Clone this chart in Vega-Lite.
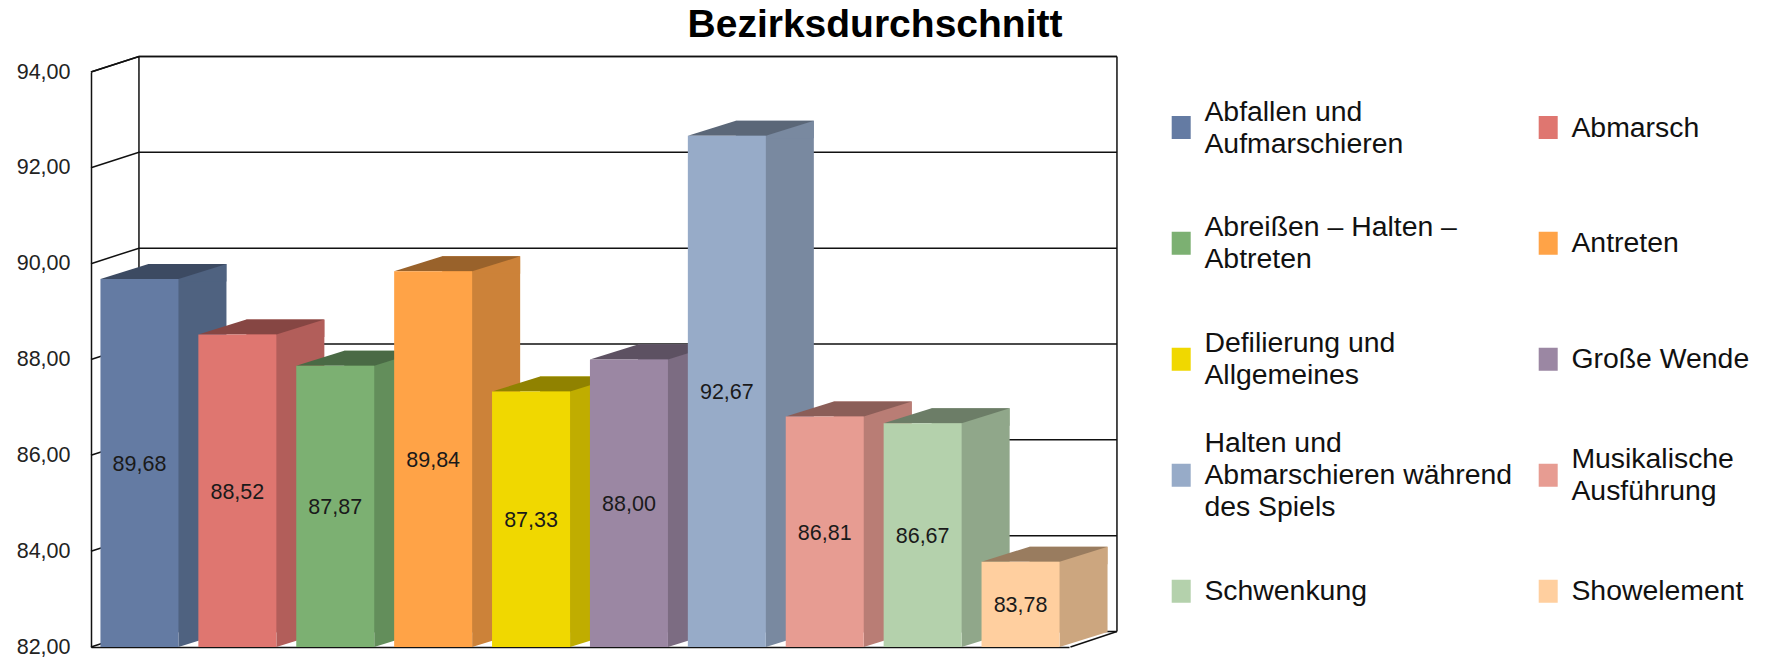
{
"$schema":"https://vega.github.io/schema/vega-lite/v6.json",
"autosize":"none",
"padding":{"left":91,"top":72,"right":699,"bottom":14},
"width":978,"height":575,
"background":"white",
"view":{"stroke":null},
"title":{"text":"Bezirksdurchschnitt","font":"Liberation Sans","fontSize":39,"fontWeight":"bold","color":"#000000","anchor":"middle","frame":"group","dx":295,"offset":-22,"baseline":"alphabetic"},
"datasets":{
"bars":[
{"name":"Abfallen und Aufmarschieren","value":89.68,"label":"89,68","base":82},
{"name":"Abmarsch","value":88.52,"label":"88,52","base":82},
{"name":"Abreißen – Halten – Abtreten","value":87.87,"label":"87,87","base":82},
{"name":"Antreten","value":89.84,"label":"89,84","base":82},
{"name":"Defilierung und Allgemeines","value":87.33,"label":"87,33","base":82},
{"name":"Große Wende","value":88.0,"label":"88,00","base":82},
{"name":"Halten und Abmarschieren während des Spiels","value":92.67,"label":"92,67","base":82},
{"name":"Musikalische Ausführung","value":86.81,"label":"86,81","base":82},
{"name":"Schwenkung","value":86.67,"label":"86,67","base":82},
{"name":"Showelement","value":83.78,"label":"83,78","base":82}
],
"ticks":[{"tick":82},{"tick":84},{"tick":86},{"tick":88},{"tick":90},{"tick":92},{"tick":94}]
},
"resolve":{"scale":{"color":"independent"}},
"layer":[
{"data":{"name":"ticks"},
 "mark":{"type":"point","filled":false,"stroke":"#111111","strokeWidth":1.5,"size":10000,"opacity":1,
  "shape":"M-0.97,0 L-0.01,-0.31 L19.55,-0.31"},
 "encoding":{
  "x":{"datum":"Abfallen und Aufmarschieren","type":"nominal","scale":{"type":"band","paddingInner":0.204,"paddingOuter":0.097,"domain":["Abfallen und Aufmarschieren","Abmarsch","Abreißen – Halten – Abtreten","Antreten","Defilierung und Allgemeines","Große Wende","Halten und Abmarschieren während des Spiels","Musikalische Ausführung","Schwenkung","Showelement"]},
   "axis":{"title":null,"labels":false,"ticks":false,"grid":false,"domain":true,"domainColor":"#111111","domainWidth":1.5}},
  "y":{"field":"tick","type":"quantitative","scale":{"domain":[82,94],"zero":false,"nice":false},
   "axis":{"title":null,"values":[82,84,86,88,90,92,94],"grid":false,"ticks":false,"domain":true,"domainColor":"#111111","domainWidth":1.5,"labelPadding":21,"labelFont":"Liberation Sans","labelFontSize":21.5,"labelColor":"#222222","labelExpr":"replace(format(datum.value,'.2f'),'.',',')"}}
 }},
{"data":{"values":[{"tick":82}]},
 "mark":{"type":"point","filled":false,"stroke":"#111111","strokeWidth":1.5,"size":10000,"opacity":1,
  "shape":"M-0.01,-0.31 L-0.01,-11.81 M19.55,-0.31 L19.55,-11.81 M18.62,0 L19.55,-0.31 M-0.97,-11.5 L-0.01,-11.81 L19.55,-11.81"},
 "encoding":{
  "x":{"datum":"Abfallen und Aufmarschieren","type":"nominal"},
  "y":{"field":"tick","type":"quantitative"}
 }},
{"data":{"name":"bars"},
 "mark":{"type":"bar","width":78,"xOffset":48,"yOffset":-15,"y2Offset":-15},
 "encoding":{
  "x":{"field":"name","type":"nominal","sort":null},
  "y":{"field":"value","type":"quantitative"},
  "y2":{"field":"base"},
  "color":{"field":"name","type":"nominal","sort":null,"legend":null,"scale":{"range":["#4F6280","#B25E5A","#638E5B","#CC8239","#C0AD00","#7C6C82","#7989A0","#B97D75","#90A78A","#CCA67F"]}}
 }},
{"data":{"name":"bars"},
 "mark":{"type":"point","filled":true,"opacity":1,"size":10000,"shape":"M0.78,0 L1.74,-0.3 L0.78,-0.3 Z"},
 "encoding":{
  "x":{"field":"name","type":"nominal","sort":null},
  "y":{"field":"base","type":"quantitative"},
  "color":{"field":"name","type":"nominal","sort":null,"legend":null,"scale":{"range":["#4F6280","#B25E5A","#638E5B","#CC8239","#C0AD00","#7C6C82","#7989A0","#B97D75","#90A78A","#CCA67F"]}}
 }},
{"data":{"name":"bars"},
 "mark":{"type":"point","filled":true,"opacity":1,"size":10000,"shape":"M0.78,0 L1.74,-0.3 L1.74,0.05 L0.78,0.05 Z"},
 "encoding":{
  "x":{"field":"name","type":"nominal","sort":null},
  "y":{"field":"value","type":"quantitative"},
  "color":{"field":"name","type":"nominal","sort":null,"legend":null,"scale":{"range":["#4F6280","#B25E5A","#638E5B","#CC8239","#C0AD00","#7C6C82","#7989A0","#B97D75","#90A78A","#CCA67F"]}}
 }},
{"data":{"name":"bars"},
 "mark":{"type":"point","filled":true,"opacity":1,"size":10000,"shape":"M-0.78,0 L0.18,-0.3 L1.74,-0.3 L0.78,0 Z"},
 "encoding":{
  "x":{"field":"name","type":"nominal","sort":null},
  "y":{"field":"value","type":"quantitative"},
  "color":{"field":"name","type":"nominal","sort":null,"legend":null,"scale":{"range":["#3C4A62","#864643","#4A6A45","#99622B","#908200","#5D5162","#5B6778","#8B5E58","#6C7D67","#997C5F"]}}
 }},
{"data":{"name":"bars"},
 "mark":{"type":"bar","width":78},
 "encoding":{
  "x":{"field":"name","type":"nominal","sort":null},
  "y":{"field":"value","type":"quantitative"},
  "y2":{"field":"base"},
  "color":{"field":"name","type":"nominal","sort":null,
   "scale":{"range":["#647BA3","#DF7670","#7CB072","#FFA347","#F0D800","#9B87A3","#97ABC8","#E79C92","#B4D1AC","#FFCF9F"]},
   "legend":{"title":null,"orient":"none","legendX":1076,"legendY":41,"direction":"horizontal","columns":2,"gridAlign":"all","rowPadding":19,"columnPadding":21,"symbolType":"M0,-4.8 L0,-4.8 M0,4.8 L0,4.8 M-0.95,-1.15 L0.95,-1.15 L0.95,1.15 L-0.95,1.15 Z","symbolSize":400,"symbolStrokeWidth":0,"symbolOpacity":1,"labelOffset":9,"labelFont":"Liberation Sans","labelFontSize":28.4,"labelColor":"#111111","labelLimit":500,"labelBaseline":"middle",
    "labelExpr":"{'Abfallen und Aufmarschieren':['Abfallen und','Aufmarschieren'],'Abmarsch':'Abmarsch','Abreißen – Halten – Abtreten':['Abreißen – Halten –','Abtreten'],'Antreten':'Antreten','Defilierung und Allgemeines':['Defilierung und','Allgemeines'],'Große Wende':'Große Wende','Halten und Abmarschieren während des Spiels':['Halten und','Abmarschieren während','des Spiels'],'Musikalische Ausführung':['Musikalische','Ausführung'],'Schwenkung':'Schwenkung','Showelement':'Showelement'}[datum.label]",
    "encoding":{"labels":{"lineHeight":{"value":32},"dy":{"value":{"expr":"datum.value=='Halten und Abmarschieren während des Spiels'?-32:(indexof('Abfallen und Aufmarschieren|Abreißen – Halten – Abtreten|Defilierung und Allgemeines|Musikalische Ausführung',datum.value)>=0?-16:0)"}}}}}
  }
 }},
{"data":{"name":"bars"},
 "transform":[{"fold":["value","base"],"as":["part","level"]}],
 "mark":{"type":"text","font":"Liberation Sans","fontSize":21.5,"color":"#1a1a1a","baseline":"middle","dy":2},
 "encoding":{
  "x":{"field":"name","type":"nominal","sort":null},
  "y":{"aggregate":"mean","field":"level","type":"quantitative"},
  "text":{"field":"label"}
 }}
]
}
